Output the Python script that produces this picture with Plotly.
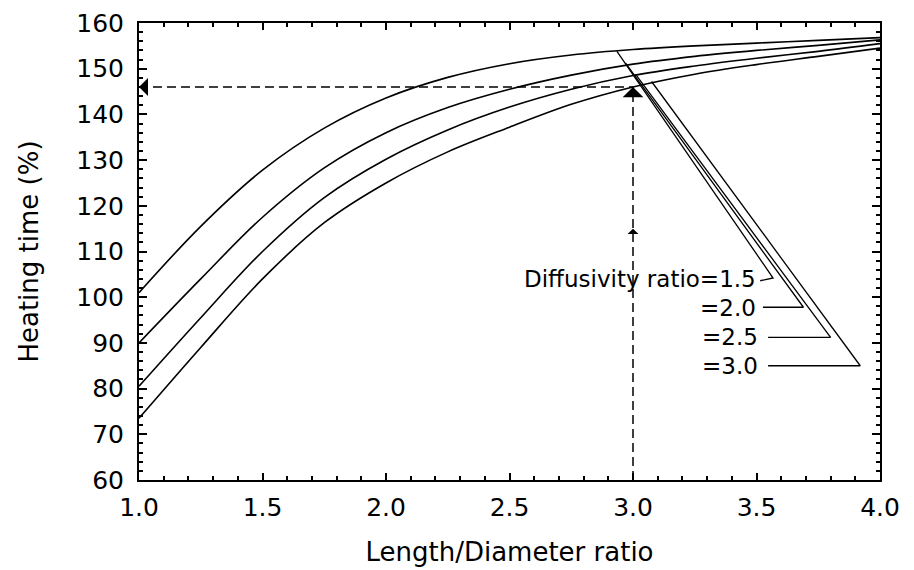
import plotly.graph_objects as go

# Length/Diameter ratio sample points
ld_ratio = [1.0, 1.25, 1.5, 1.75, 2.0, 2.25, 2.5, 2.75, 3.0, 3.25, 3.5, 3.75, 4.0]

# Heating time (%) for each diffusivity ratio
heat_15 = [101.0, 115.5, 127.8, 137.0, 143.6, 148.1, 151.1, 153.0, 154.2, 155.0, 155.6, 156.2, 156.8]
heat_20 = [90.0, 104.0, 117.5, 128.3, 136.0, 141.5, 145.5, 148.6, 151.0, 152.7, 154.0, 155.1, 156.3]
heat_25 = [80.5, 95.5, 110.0, 121.8, 130.2, 136.6, 141.6, 145.5, 148.5, 150.6, 152.3, 153.8, 155.5]
heat_30 = [73.5, 89.0, 104.0, 116.3, 125.0, 131.8, 137.2, 142.2, 146.0, 148.8, 150.9, 152.7, 154.5]

# Leader lines for the labels (start on curve -> vertex -> label)
leader_start_x = [2.935, 2.97, 3.01, 3.075]
leader_start_y = [153.8, 151.2, 148.8, 147.2]
leader_vertex_x = [3.567, 3.69, 3.80, 3.92]
leader_vertex_y = [104.2, 97.8, 91.2, 85.0]
leader_end_x = [3.515, 3.526, 3.547, 3.547]
leader_end_y = [103.6, 97.8, 91.2, 85.0]

label_texts = ["Diffusivity ratio=1.5", "=2.0", "=2.5", "=3.0"]
label_x = [3.50, 3.50, 3.51, 3.51]
label_y = [104.0, 97.7, 91.3, 84.9]

# Reading example: L/D = 3.0 -> heating time 146 %
example_x = 3.0
example_y = 146.0
x_min, x_max = 1.0, 4.0
y_min, y_max = 60, 160
mid_arrow_y = 115.0

FONT = "DejaVu Sans"

fig = go.Figure()

for vals in [heat_15, heat_20, heat_25, heat_30]:
    fig.add_trace(go.Scatter(x=ld_ratio, y=vals, mode="lines",
                             line=dict(color="black", width=1.6, shape="spline", smoothing=1.0),
                             showlegend=False, hoverinfo="skip"))

for i in range(4):
    fig.add_trace(go.Scatter(
        x=[leader_start_x[i], leader_vertex_x[i], leader_end_x[i]],
        y=[leader_start_y[i], leader_vertex_y[i], leader_end_y[i]],
        mode="lines", line=dict(color="black", width=1.3),
        showlegend=False, hoverinfo="skip"))

# dashed reading lines
fig.add_trace(go.Scatter(x=[x_min, example_x], y=[example_y, example_y], mode="lines",
                         line=dict(color="black", width=1.5, dash="9px,5px"),
                         showlegend=False, hoverinfo="skip"))
fig.add_trace(go.Scatter(x=[example_x, example_x], y=[y_min, example_y], mode="lines",
                         line=dict(color="black", width=1.5, dash="9px,5px"),
                         showlegend=False, hoverinfo="skip"))

annotations = []
for t, lx, ly in zip(label_texts, label_x, label_y):
    annotations.append(dict(x=lx, y=ly, xref="x", yref="y", text=t, showarrow=False,
                            xanchor="right", yanchor="middle", borderpad=0,
                            font=dict(size=23, color="black", family=FONT)))

# arrowheads
annotations.append(dict(x=x_min, y=example_y, xref="x", yref="y", ax=x_min + 0.03, ay=example_y,
                        axref="x", ayref="y", text="", showarrow=True, arrowhead=1,
                        arrowsize=2.0, arrowwidth=1.5, arrowcolor="black", standoff=0))
annotations.append(dict(x=example_x, y=example_y, xref="x", yref="y", ax=example_x, ay=example_y - 2,
                        axref="x", ayref="y", text="", showarrow=True, arrowhead=1,
                        arrowsize=2.3, arrowwidth=1.5, arrowcolor="black", standoff=0))
annotations.append(dict(x=example_x, y=mid_arrow_y, xref="x", yref="y", ax=example_x, ay=mid_arrow_y - 1.5,
                        axref="x", ayref="y", text="", showarrow=True, arrowhead=1,
                        arrowsize=1.4, arrowwidth=1.3, arrowcolor="black", standoff=0))

axis_common = dict(showline=True, linewidth=2, linecolor="black", mirror="allticks",
                   ticks="inside", tickwidth=1.5, tickcolor="black",
                   showgrid=False, zeroline=False, automargin=False,
                   ticklabeloverflow="allow",
                   tickfont=dict(size=25, color="black", family=FONT))

fig.update_layout(
    width=914, height=570,
    margin=dict(l=131, r=42, t=15, b=98),
    paper_bgcolor="white", plot_bgcolor="white",
    font=dict(family=FONT, color="black"),
    annotations=annotations,
    xaxis=dict(range=[x_min, x_max], dtick=0.5, tick0=1.0, tickformat=".1f", ticklen=7,
               minor=dict(dtick=0.1, ticks="inside", ticklen=4, tickwidth=1.5, tickcolor="black"),
               title=dict(text="Length/Diameter ratio", font=dict(size=26, family=FONT), standoff=22),
               ticklabelstandoff=4,
               **axis_common),
    yaxis=dict(range=[y_min, y_max], dtick=10, ticklen=8,
               minor=dict(dtick=2, ticks="inside", ticklen=4, tickwidth=1.5, tickcolor="black"),
               title=dict(text="Heating time (%)", font=dict(size=26, family=FONT), standoff=30),
               ticklabelstandoff=8,
               **axis_common),
)

fig.write_html("out.html")
